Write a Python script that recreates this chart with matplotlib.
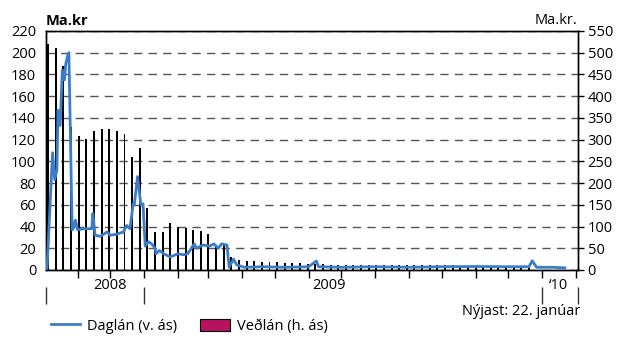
import matplotlib
matplotlib.use('Agg')
import matplotlib.pyplot as plt
import matplotlib.dates as mdates
from matplotlib.lines import Line2D
from matplotlib.patches import Patch
import pandas as pd

plt.rcParams['font.family'] = ['Open Sans', 'DejaVu Sans']
plt.rcParams['font.size'] = 10.5

# Daglán (overnight loans), left axis, bn ISK
daglan_dates = ['2008-10-03', '2008-10-04', '2008-10-09', '2008-10-11', '2008-10-13',
                '2008-10-14', '2008-10-16', '2008-10-18', '2008-10-20', '2008-10-21',
                '2008-10-23', '2008-10-24', '2008-10-27', '2008-10-28', '2008-10-30',
                '2008-11-01', '2008-11-07', '2008-11-14', '2008-11-15', '2008-11-17',
                '2008-11-22', '2008-11-28', '2008-12-01', '2008-12-07', '2008-12-13',
                '2008-12-16', '2008-12-19', '2008-12-22', '2008-12-23', '2008-12-26',
                '2008-12-29', '2008-12-31', '2009-01-02', '2009-01-05', '2009-01-08',
                '2009-01-11', '2009-01-12', '2009-01-15', '2009-01-19', '2009-01-25',
                '2009-02-01', '2009-02-06', '2009-02-10', '2009-02-16', '2009-02-18',
                '2009-02-24', '2009-03-02', '2009-03-06', '2009-03-10', '2009-03-13',
                '2009-03-18', '2009-03-20', '2009-03-24', '2009-03-27', '2009-04-03',
                '2009-04-20', '2009-05-10', '2009-06-01', '2009-06-08', '2009-06-10',
                '2009-07-01', '2009-08-01', '2009-09-01', '2009-10-01', '2009-11-01',
                '2009-12-01', '2009-12-20', '2009-12-23', '2009-12-27', '2010-01-10',
                '2010-01-22']
daglan = [0, 2, 108, 83, 92,
          147, 133, 184, 175, 189,
          198, 200, 37, 38, 46,
          37, 38, 38, 52, 32,
          31, 35, 32, 33, 35,
          41, 38, 61, 60, 86,
          60, 61, 22, 26, 24,
          20, 15, 18, 15, 12,
          15, 14, 15, 24, 20,
          23, 22, 24, 20, 24,
          23, 2.5, 10, 4.6, 2.5,
          3, 2.5, 3, 8.3, 3,
          2.5, 3, 2.5, 3, 3.2,
          3, 3, 8.5, 2.5, 2.5,
          2]

# Veðlán (collateral loans), right axis, weekly, bn ISK
veolan = [520, 510, 470, 330, 309, 301, 320, 324, 325, 321, 312, 261, 280, 142,
          88, 88, 107, 100, 97, 92, 90, 82, 55, 60, 30, 23, 21, 21, 19, 19,
          18, 17, 16, 15, 14, 13, 13, 12, 12, 12, 12, 12, 12, 12, 11, 11,
          11, 11, 11, 11, 11, 11, 11, 11, 10, 10, 10, 10, 10, 10, 10, 10, 10, 10]
veolan_dates = pd.date_range('2008-10-05', periods=len(veolan), freq='7D')

year_labels = ['2008', '2009', '\u201810']
year_label_dates = ['2008-12-01', '2009-06-20', '2010-01-16']
year_breaks = ['2008-10-03', '2009-01-01', '2010-01-01', '2010-02-03']

blue = '#3b7cc6'
crimson = '#b8135e'

fig = plt.figure(figsize=(6.24, 3.38), dpi=100)
ax = fig.add_axes([0.0737, 0.2012, 0.8526, 0.7071])
ax2 = ax.twinx()

ax2.bar(veolan_dates, veolan, width=1.8, color='black', zorder=3)
ax2.set_ylim(0, 550)
ax2.set_yticks(range(0, 551, 50))
ax2.yaxis.grid(True, linestyle=(0, (6, 4.5)), color='#555555', lw=1)
ax2.set_axisbelow(True)
ax2.tick_params(axis='y', length=4, width=1, pad=3)

ax.plot(pd.to_datetime(daglan_dates), daglan, color=blue, lw=2, zorder=4)
ax.set_ylim(0, 220)
ax.set_yticks(range(0, 221, 20))
ax.tick_params(axis='y', length=0, pad=7)
ax.set_zorder(ax2.get_zorder() + 1)
ax.patch.set_visible(False)

ax.set_xlim(pd.Timestamp('2008-10-03'), pd.Timestamp('2010-02-03'))
ax.xaxis.set_major_locator(mdates.MonthLocator())
ax.xaxis.set_major_formatter(plt.NullFormatter())
ax.tick_params(axis='x', length=6, width=1, direction='out')

for a in (ax, ax2):
    for s in a.spines.values():
        s.set_linewidth(1)

# year separators below the axis
sec = ax.secondary_xaxis(-0.07)
sec.set_xticks(pd.to_datetime(year_breaks))
sec.set_xticklabels([])
sec.tick_params(axis='x', length=12, width=1, color='#333333', direction='out')
sec.spines['bottom'].set_visible(False)

for lab, d in zip(year_labels, year_label_dates):
    ax.text(pd.Timestamp(d), -0.065, lab, transform=ax.get_xaxis_transform(),
            ha='center', va='center', fontsize=10.5)

fig.text(0.0737, 0.938, 'Ma.kr', ha='left', va='center', fontweight='bold', fontsize=10.5)
fig.text(0.926, 0.938, 'Ma.kr.', ha='right', va='center', fontsize=10.5)
fig.text(0.93, 0.077, 'Nýjast: 22. janúar', ha='right', va='center', fontsize=10.5)

handles = [Line2D([0], [0], color=blue, lw=2),
           Patch(facecolor=crimson, edgecolor='black', lw=0.8)]
fig.legend(handles, ['Daglán (v. ás)', 'Veðlán (h. ás)'], loc='center left',
           bbox_to_anchor=(0.06, 0.035), ncol=2, frameon=False, fontsize=10.5,
           handlelength=2.0, handleheight=0.9, columnspacing=1.6, handletextpad=0.5)

fig.savefig('out.png', dpi=100)
